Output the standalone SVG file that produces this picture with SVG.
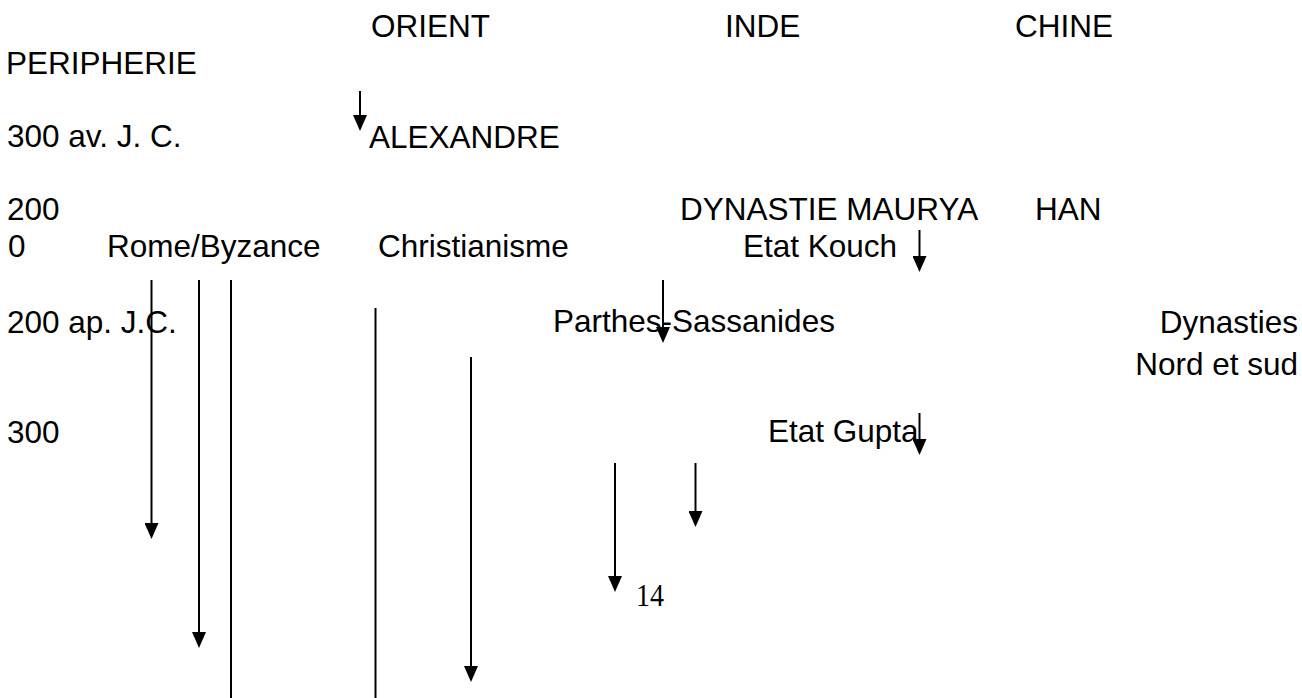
<svg xmlns="http://www.w3.org/2000/svg" width="1302" height="698" viewBox="0 0 1302 698">
<style>
  text { font-family: "Liberation Sans", Arial, sans-serif; font-size: 31.5px; fill: #000; }
  .num { font-family: "Liberation Serif", "Times New Roman", serif; font-size: 32px; }
  .end { text-anchor: end; }
  line { stroke: #000; stroke-width: 2; }
  .arr { marker-end: url(#ah); }
</style>
<defs>
  <marker id="ah" markerUnits="userSpaceOnUse" markerWidth="16" markerHeight="14" viewBox="0 0 16 14" refX="6" refY="7" orient="auto">
    <path d="M0,0 L16,7 L0,14 z" fill="#000"/>
  </marker>
</defs>
<rect width="1302" height="698" fill="#fff"/>
<g id="headers">
  <text x="371" y="37">ORIENT</text>
  <text x="725" y="37">INDE</text>
  <text x="1015" y="37">CHINE</text>
  <text x="6" y="74">PERIPHERIE</text>
</g>
<g id="row-300av">
  <text x="7" y="147">300 av. J. C.</text>
  <text x="369" y="148">ALEXANDRE</text>
</g>
<g id="row-200">
  <text x="7" y="220">200</text>
  <text x="680" y="220">DYNASTIE MAURYA</text>
  <text x="1035" y="220">HAN</text>
</g>
<g id="row-0">
  <text x="8" y="257">0</text>
  <text x="107" y="257">Rome/Byzance</text>
  <text x="378" y="257">Christianisme</text>
  <text x="743" y="257">Etat Kouch</text>
</g>
<g id="row-200ap">
  <text x="7" y="333">200 ap. J.C.</text>
  <text x="553" y="332">Parthes-Sassanides</text>
  <text class="end" x="1298" y="333">Dynasties</text>
  <text class="end" x="1298" y="375">Nord et sud</text>
</g>
<g id="row-300">
  <text x="7" y="443">300</text>
  <text x="768" y="442">Etat Gupta</text>
</g>
<g id="page-number">
  <text class="num" x="636" y="606" textLength="28" lengthAdjust="spacingAndGlyphs">14</text>
</g>
<g id="connectors">
  <line class="arr" x1="360" y1="91" x2="360" y2="121"/>
  <line class="arr" x1="919.5" y1="230" x2="919.5" y2="262"/>
  <line class="arr" x1="663" y1="280" x2="663" y2="333"/>
  <line class="arr" x1="919.5" y1="413" x2="919.5" y2="445"/>
  <line class="arr" x1="151.5" y1="280" x2="151.5" y2="529"/>
  <line class="arr" x1="199" y1="280" x2="199" y2="638"/>
  <line x1="231" y1="280" x2="231" y2="698"/>
  <line x1="375.5" y1="308" x2="375.5" y2="698"/>
  <line class="arr" x1="471" y1="357" x2="471" y2="672"/>
  <line class="arr" x1="615" y1="463" x2="615" y2="582"/>
  <line class="arr" x1="695.5" y1="463" x2="695.5" y2="517"/>
</g>
</svg>
